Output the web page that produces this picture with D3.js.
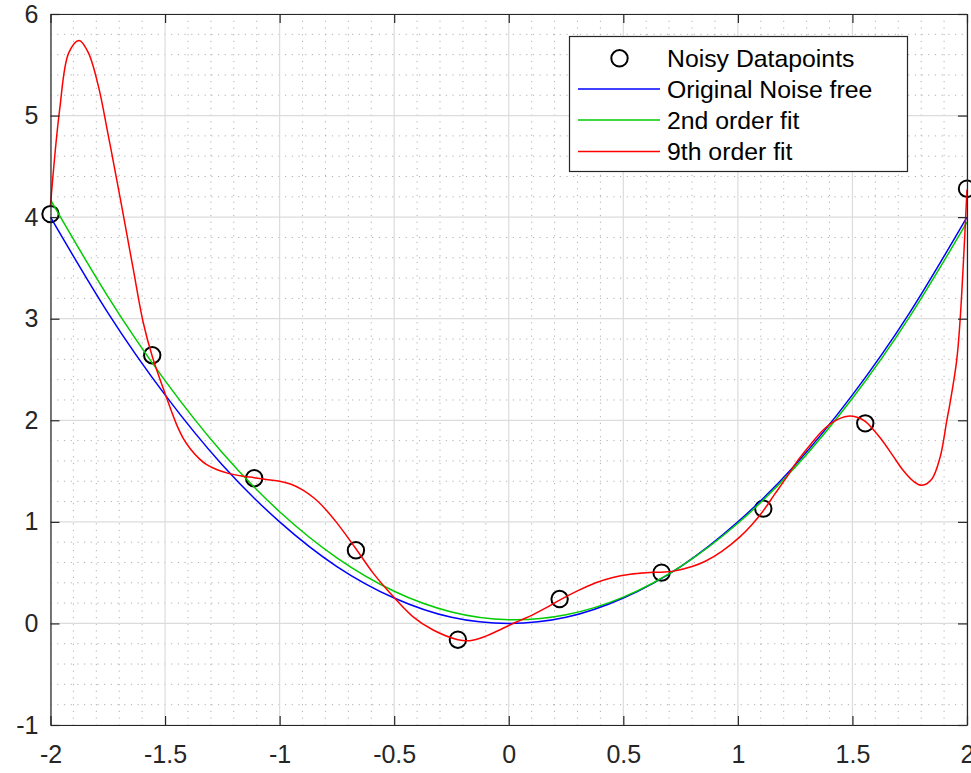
<!DOCTYPE html>
<html><head><meta charset="utf-8">
<script src="https://cdn.jsdelivr.net/npm/d3@7"></script>
<style>
body{margin:0;background:#fff}
text{font-family:"Liberation Sans",Arial,Helvetica,sans-serif}
</style>
</head><body>
<svg id="c" width="971" height="773"></svg>
<script>
// Noisy data points
const dataX = [-2, -1.556, -1.111, -0.667, -0.222, 0.222, 0.667, 1.111, 1.556, 2];
const dataY = [4.03, 2.64, 1.43, 0.72, -0.16, 0.24, 0.50, 1.13, 1.97, 4.28];
// Smooth curves
const curveX = [-2, -1.75, -1.5, -1.25, -1, -0.75, -0.5, -0.25, 0, 0.25, 0.5, 0.75, 1, 1.25, 1.5, 1.75, 2];
const trueY  = [4, 3.06, 2.25, 1.56, 1, 0.56, 0.25, 0.06, 0, 0.06, 0.25, 0.56, 1, 1.56, 2.25, 3.06, 4];
const fit2Y  = [4.17, 3.22, 2.39, 1.68, 1.10, 0.646, 0.317, 0.113, 0.036, 0.085, 0.259, 0.560, 0.986, 1.538, 2.217, 3.021, 3.95];
const fit9X = [-2, -1.96, -1.92, -1.875, -1.835, -1.79, -1.75, -1.711, -1.682, -1.639, -1.595, -1.556,
  -1.49, -1.45, -1.42, -1.39, -1.35, -1.32, -1.27, -1.22, -1.16, -1.111, -1.05, -1.0, -0.95, -0.9, -0.85,
  -0.8, -0.75, -0.707, -0.667, -0.59, -0.53, -0.42, -0.33, -0.222, -0.17, -0.1, -0.05, 0, 0.05, 0.1, 0.16,
  0.222, 0.3, 0.38, 0.45, 0.53, 0.6, 0.667, 0.72, 0.8, 0.86, 0.93, 1.01, 1.06, 1.111, 1.16, 1.21, 1.26,
  1.32, 1.37, 1.42, 1.48, 1.52, 1.556, 1.62, 1.68, 1.72, 1.766, 1.803, 1.846, 1.883, 1.912, 1.926, 1.955, 1.97, 2];
const fit9Y = [4.12, 5.06, 5.62, 5.74, 5.62, 5.28, 4.83, 4.37, 4.02, 3.49, 2.96, 2.63,
  2.20, 1.96, 1.82, 1.72, 1.62, 1.565, 1.51, 1.475, 1.45, 1.435, 1.415, 1.40, 1.37, 1.315, 1.235,
  1.125, 0.99, 0.86, 0.735, 0.49, 0.33, 0.07, -0.065, -0.16, -0.17, -0.125, -0.075, -0.02, 0.03, 0.08, 0.15,
  0.23, 0.32, 0.40, 0.45, 0.485, 0.50, 0.505, 0.515, 0.56, 0.615, 0.71, 0.855, 0.97, 1.11, 1.27, 1.43, 1.60,
  1.77, 1.90, 1.99, 2.04, 2.03, 1.99, 1.83, 1.64, 1.51, 1.40, 1.36, 1.42, 1.64, 2.0, 2.17, 2.59, 2.99, 4.27];
const xTicks = [-2, -1.5, -1, -0.5, 0, 0.5, 1, 1.5, 2];
const yTicks = [-1, 0, 1, 2, 3, 4, 5, 6];
const legendLabels = ["Noisy Datapoints", "Original Noise free", "2nd order fit", "9th order fit"];
const seriesColors = ["#000000", "#0000ff", "#00cc00", "#ff0000"];

const svg = d3.select("#c");
const L = 50.5, R = 967, T = 14, B = 725;
const x = d3.scaleLinear().domain([-2, 2]).range([L, R]);
const y = d3.scaleLinear().domain([-1, 6]).range([B, T]);

const g = svg.append("g");

// minor grid
const minorX = d3.range(-20, 21).map(i => i / 10).filter(v => Math.abs(v * 2 - Math.round(v * 2)) > 1e-6);
const minorY = d3.range(-5, 31).map(i => i / 5).filter(v => Math.abs(v - Math.round(v)) > 1e-6);
g.selectAll(".mx").data(minorX).join("line")
  .attr("x1", d => x(d)).attr("x2", d => x(d)).attr("y1", T).attr("y2", B)
  .attr("stroke", "#b0b0b0").attr("stroke-width", 1).attr("stroke-dasharray", "1.2,5.5");
g.selectAll(".my").data(minorY).join("line")
  .attr("y1", d => y(d)).attr("y2", d => y(d)).attr("x1", L).attr("x2", R)
  .attr("stroke", "#b0b0b0").attr("stroke-width", 1).attr("stroke-dasharray", "1.2,5.5");
// major grid
g.selectAll(".gx").data(xTicks).join("line")
  .attr("x1", d => x(d)).attr("x2", d => x(d)).attr("y1", T).attr("y2", B)
  .attr("stroke", "#dcdcdc").attr("stroke-width", 1.2);
g.selectAll(".gy").data(yTicks).join("line")
  .attr("y1", d => y(d)).attr("y2", d => y(d)).attr("x1", L).attr("x2", R)
  .attr("stroke", "#dcdcdc").attr("stroke-width", 1.2);

// data points
g.selectAll(".pt").data(dataX.map((d, i) => [d, dataY[i]])).join("circle")
  .attr("cx", d => x(d[0])).attr("cy", d => y(d[1])).attr("r", 8.2)
  .attr("fill", "none").attr("stroke", "#000").attr("stroke-width", 2);

// curves
const lineN = d3.line().x(d => x(d[0])).y(d => y(d[1])).curve(d3.curveNatural);
const lineC = d3.line().x(d => x(d[0])).y(d => y(d[1])).curve(d3.curveCatmullRom.alpha(0.5));
g.append("path").datum(curveX.map((d, i) => [d, trueY[i]])).attr("d", lineN)
  .attr("fill", "none").attr("stroke", seriesColors[1]).attr("stroke-width", 1.5);
g.append("path").datum(curveX.map((d, i) => [d, fit2Y[i]])).attr("d", lineN)
  .attr("fill", "none").attr("stroke", seriesColors[2]).attr("stroke-width", 1.5);
g.append("path").datum(fit9X.map((d, i) => [d, fit9Y[i]])).attr("d", lineC)
  .attr("fill", "none").attr("stroke", seriesColors[3]).attr("stroke-width", 1.5);

// axes
const fmt = d => String(d);
const axB = svg.append("g").attr("transform", `translate(0,${B})`)
  .call(d3.axisBottom(x).tickValues(xTicks).tickFormat(fmt).tickSizeInner(-9).tickSizeOuter(0).tickPadding(20));
const axT = svg.append("g").attr("transform", `translate(0,${T})`)
  .call(d3.axisTop(x).tickValues(xTicks).tickFormat("").tickSizeInner(-9).tickSizeOuter(0));
const axL = svg.append("g").attr("transform", `translate(${L},0)`)
  .call(d3.axisLeft(y).tickValues(yTicks).tickFormat(fmt).tickSizeInner(-9).tickSizeOuter(0).tickPadding(12));
const axR = svg.append("g").attr("transform", `translate(${R},0)`)
  .call(d3.axisRight(y).tickValues(yTicks).tickFormat("").tickSizeInner(-9).tickSizeOuter(0));
[axB, axT, axL, axR].forEach(a => {
  a.select(".domain").attr("stroke", "#262626").attr("stroke-width", 1.2);
  a.selectAll(".tick line").attr("stroke", "#262626").attr("stroke-width", 1.2);
  a.selectAll(".tick text").attr("fill", "#262626").style("font-size", "25px")
    .style("font-family", '"Liberation Sans", Arial, sans-serif');
});

// legend
const lg = svg.append("g");
lg.append("rect").attr("x", 569.5).attr("y", 36.5).attr("width", 338).attr("height", 135)
  .attr("fill", "#fff").attr("stroke", "#262626").attr("stroke-width", 1.2);
const rowY = [58.3, 89, 120, 151.5];
legendLabels.forEach((lab, i) => {
  if (i === 0) {
    lg.append("circle").attr("cx", 619.5).attr("cy", rowY[i]).attr("r", 8.2)
      .attr("fill", "none").attr("stroke", "#000").attr("stroke-width", 2);
  } else {
    lg.append("line").attr("x1", 578).attr("x2", 660).attr("y1", rowY[i]).attr("y2", rowY[i])
      .attr("stroke", seriesColors[i]).attr("stroke-width", 1.5);
  }
  lg.append("text").attr("x", 667).attr("y", rowY[i] + 8.8).text(lab)
    .style("font-size", "24.8px").attr("fill", "#000");
});
</script>
</body></html>
